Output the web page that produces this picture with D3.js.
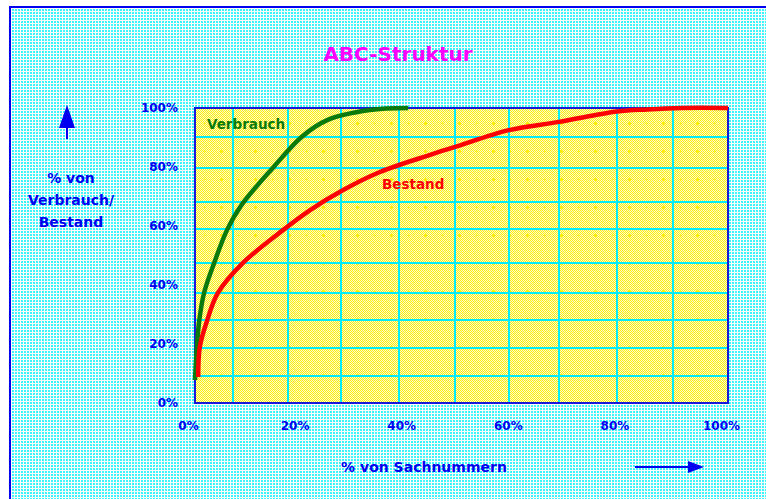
<!DOCTYPE html>
<html><head><meta charset="utf-8">
<script src="https://cdn.jsdelivr.net/npm/d3@7"></script>
<style>
html,body{margin:0;padding:0;background:#fff;}
svg{display:block;}
text{font-family:"DejaVu Sans",sans-serif;font-weight:bold;}
</style></head>
<body>
<script>
// ---- data ----
const title = "ABC-Struktur";
const xTicks = [0, 20, 40, 60, 80, 100];
const yTicks = [0, 20, 40, 60, 80, 100];
const gridX = [7.1, 17.4, 27.4, 38.3, 48.8, 58.9, 68.3, 79.2, 89.7];
const gridY = [9.2, 18.6, 28.1, 37.3, 47.5, 59.0, 68.1, 79.7, 90.2];
const seriesNames = ["Verbrauch", "Bestand"];
const verbrauchX = [0, 0.3, 0.8, 1.7, 3.6, 6.0, 8.6, 14.6, 20.0, 24.8, 32.8, 40.0];
const verbrauchY = [7.8, 17.3, 28.0, 37.3, 47.5, 58.6, 66.8, 79.7, 90.2, 95.9, 99.3, 100];
const bestandX = [0.6, 0.9, 2.3, 4.3, 9.0, 16.5, 21.6, 27.8, 34.7, 44.1, 48.8, 58.9, 68.3, 79.2, 84.8, 91.3, 100];
const bestandY = [8.8, 19.0, 28.1, 37.3, 47.5, 58.6, 65.4, 72.2, 78.3, 84.1, 86.8, 92.5, 95.3, 98.8, 99.5, 100, 100];
const xTitle = "% von Sachnummern";
const yTitleLines = ["% von", "Verbrauch/", "Bestand"];

// ---- layout ----
const W = 766, H = 499;
const plot = {l: 195, t: 108, r: 728, b: 403};
const blue = "#0000f0", cyan = "#00ecff";

const svg = d3.select("body").append("svg").attr("width", W).attr("height", H);
const defs = svg.append("defs");

const bg = defs.append("pattern").attr("id", "bg").attr("patternUnits", "userSpaceOnUse")
  .attr("width", 3).attr("height", 3);
bg.append("rect").attr("width", 3).attr("height", 3).attr("fill", "#ffffff");
bg.append("rect").attr("width", 2).attr("height", 2).attr("fill", "#3ff4ff");

const yp = defs.append("pattern").attr("id", "yp").attr("patternUnits", "userSpaceOnUse")
  .attr("width", 2).attr("height", 2);
yp.append("rect").attr("width", 2).attr("height", 2).attr("fill", "#fffbc8");
yp.append("rect").attr("width", 1).attr("height", 1).attr("fill", "#ffee10");
yp.append("rect").attr("x", 1).attr("y", 1).attr("width", 1).attr("height", 1).attr("fill", "#ffee10");
const pp = defs.append("pattern").attr("id", "pp").attr("patternUnits", "userSpaceOnUse")
  .attr("x", plot.l + 8).attr("y", plot.t + 14).attr("width", 17).attr("height", 28);
pp.append("rect").attr("x", 1).attr("y", 0).attr("width", 1).attr("height", 3).attr("fill", "#ffee00");
pp.append("rect").attr("x", 0).attr("y", 1).attr("width", 3).attr("height", 1).attr("fill", "#ffee00");

svg.append("rect").attr("x", 0).attr("y", 0).attr("width", W).attr("height", H).attr("fill", "#fff");
svg.append("rect").attr("x", 10).attr("y", 7).attr("width", W + 20).attr("height", H + 20)
  .attr("fill", "url(#bg)").attr("stroke", blue).attr("stroke-width", 2).attr("shape-rendering", "crispEdges");

const x = d3.scaleLinear().domain([0, 100]).range([plot.l, plot.r]);
const y = d3.scaleLinear().domain([0, 100]).range([plot.b, plot.t]);

svg.append("rect").attr("x", plot.l).attr("y", plot.t).attr("width", plot.r - plot.l).attr("height", plot.b - plot.t)
  .attr("fill", "url(#yp)").attr("shape-rendering", "crispEdges");
svg.append("rect").attr("x", plot.l).attr("y", plot.t).attr("width", plot.r - plot.l).attr("height", plot.b - plot.t)
  .attr("fill", "url(#pp)").attr("shape-rendering", "crispEdges");

const g = svg.append("g").attr("stroke", cyan).attr("stroke-width", 2).attr("shape-rendering", "crispEdges");
g.selectAll("line.v").data(gridX).join("line").attr("class", "v")
  .attr("x1", d => x(d)).attr("x2", d => x(d)).attr("y1", plot.t).attr("y2", plot.b);
g.selectAll("line.h").data(gridY).join("line").attr("class", "h")
  .attr("x1", plot.l).attr("x2", plot.r).attr("y1", d => y(d)).attr("y2", d => y(d));

svg.append("rect").attr("x", plot.l).attr("y", plot.t).attr("width", plot.r - plot.l).attr("height", plot.b - plot.t)
  .attr("fill", "none").attr("stroke", "#1818d8").attr("stroke-width", 2).attr("shape-rendering", "crispEdges");

const line = d3.line().x(d => x(d[0])).y(d => y(d[1])).curve(d3.curveCatmullRom.alpha(0.5));
const series = [
  {name: seriesNames[0], pts: d3.zip(verbrauchX, verbrauchY), color: "#0a7a0a"},
  {name: seriesNames[1], pts: d3.zip(bestandX, bestandY), color: "#ff0000"}
];
svg.selectAll("path.curve").data(series).join("path").attr("class", "curve")
  .attr("d", d => line(d.pts)).attr("fill", "none").attr("stroke", d => d.color)
  .attr("stroke-width", 4.5).attr("stroke-linecap", "butt");

const xAxis = svg.append("g").attr("transform", `translate(0,${plot.b})`)
  .call(d3.axisBottom(x).tickValues(xTicks).tickSize(0).tickPadding(18).tickFormat(d => d + "%"));
xAxis.select(".domain").remove();
xAxis.selectAll("text").attr("dx", -7);
const yAxis = svg.append("g").attr("transform", `translate(${plot.l},0)`)
  .call(d3.axisLeft(y).tickValues(yTicks).tickSize(0).tickPadding(17).tickFormat(d => d + "%"));
yAxis.select(".domain").remove();
svg.selectAll(".tick text").attr("fill", blue).style("font-size", "12px")
  .style("font-family", "'DejaVu Sans',sans-serif").style("font-weight", "bold");

svg.append("text").attr("x", 398).attr("y", 61).attr("text-anchor", "middle")
  .attr("fill", "#ff00ff").style("font-size", "20px").text(title);

svg.append("text").attr("x", 207).attr("y", 129).attr("fill", "#0a7a0a")
  .style("font-size", "13.5px").text(series[0].name);
svg.append("text").attr("x", 382).attr("y", 189).attr("fill", "#ff0000")
  .style("font-size", "13.5px").text(series[1].name);

svg.append("text").attr("x", 424).attr("y", 472).attr("text-anchor", "middle").attr("fill", blue)
  .style("font-size", "14px").text(xTitle);
svg.selectAll("text.yt").data(yTitleLines).join("text").attr("class", "yt")
  .attr("x", 71).attr("y", (d, i) => 183 + i * 22).attr("text-anchor", "middle").attr("fill", blue)
  .style("font-size", "14px").text(d => d);

svg.append("line").attr("x1", 67).attr("x2", 67).attr("y1", 124).attr("y2", 139)
  .attr("stroke", blue).attr("stroke-width", 2);
svg.append("path").attr("d", "M67,105 L59,128 L75,128 Z").attr("fill", blue);
svg.append("line").attr("x1", 635).attr("x2", 692).attr("y1", 467).attr("y2", 467)
  .attr("stroke", blue).attr("stroke-width", 2);
svg.append("path").attr("d", "M704,467 L688,461 L688,473 Z").attr("fill", blue);
</script>
</body></html>
